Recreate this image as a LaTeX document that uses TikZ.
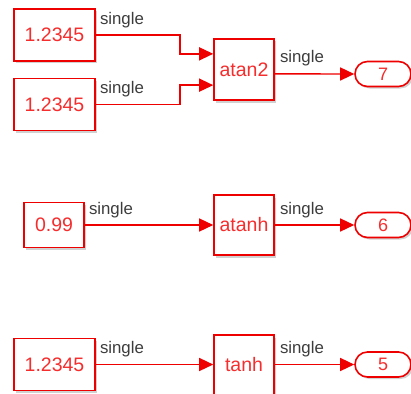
\documentclass[tikz,border=0pt]{standalone}
\usepackage{fontspec}
\setmainfont{Liberation Sans}
\usetikzlibrary{arrows.meta,shapes.misc,shadows,calc}
\definecolor{slred}{RGB}{238,0,0}
\definecolor{sltext}{RGB}{245,45,45}
\definecolor{slgray}{RGB}{60,60,60}
\tikzset{
  blk/.style={draw=slred, line width=1.6pt, fill=white, inner sep=0pt, text=sltext,
    font=\fontsize{19.5}{23}\selectfont,
    drop shadow={shadow xshift=2pt, shadow yshift=-2.5pt, fill=black, opacity=0.18}},
  outport/.style={rounded rectangle, draw=slred, line width=1.6pt, fill=white, inner sep=0pt,
    text=sltext, font=\fontsize{18}{22}\selectfont, minimum width=56pt, minimum height=25pt,
    drop shadow={shadow xshift=2pt, shadow yshift=-2pt, fill=black, opacity=0.18}},
  conn/.style={draw=slred, line width=1.4pt, -{Triangle[length=14pt,width=13pt]}},
  lbl/.style={text=slgray, inner sep=0pt, anchor=south west, font=\fontsize{16.8}{20}\selectfont}
}
\begin{document}
\begin{tikzpicture}[x=1pt,y=-1pt]
\useasboundingbox (0,0) rectangle (411,393);
% top group
\node[blk, minimum width=81pt, minimum height=52pt] (c1) at (54.5,35) {1.2345};
\node[blk, minimum width=81pt, minimum height=52pt] (c2) at (54.5,104.5) {1.2345};
\node[blk, minimum width=60pt, minimum height=61pt] (a2) at (244,69.5) {atan2};
\coordinate (a2in1) at ($(a2.north west)!0.25!(a2.south west)$);
\coordinate (a2in2) at ($(a2.north west)!0.75!(a2.south west)$);
\coordinate (a2out) at ($(a2.north east)!0.57!(a2.south east)$);
\node[outport] (p7) at (383,74) {7};
\draw[conn] (c1.east) -- (180,35) |- (a2in1);
\draw[conn] (c2.east) -- (180,104.5) |- (a2in2);
\draw[conn] (a2out) -- (p7.west);
\node[lbl] (l1) at ($(c1.east)+(4,-7)$) {single};
\node[lbl] (l2) at ($(c2.east)+(4,-7)$) {single};
\node[lbl] (l3) at ($(a2out)+(5,-8)$) {single};
% middle group
\node[blk, minimum width=60pt, minimum height=45pt] (c3) at (54,225) {0.99};
\node[blk, minimum width=60pt, minimum height=60pt] (ah) at (244,225) {atanh};
\node[outport] (p6) at (383,225) {6};
\draw[conn] (c3.east) -- (ah.west);
\draw[conn] (ah.east) -- (p6.west);
\node[lbl] (l4) at ($(c3.east)+(4,-7)$) {single};
\node[lbl] (l5) at ($(ah.east)+(5,-7)$) {single};
% bottom group
\node[blk, minimum width=81pt, minimum height=52pt] (c4) at (54.5,364.5) {1.2345};
\node[blk, minimum width=60pt, minimum height=60pt] (th) at (244,365) {tanh};
\node[outport] (p5) at (383,364.5) {5};
\draw[conn] (c4.east) -- (th.west |- c4.east);
\draw[conn] (th.east |- c4.east) -- (p5.west);
\node[lbl] (l6) at ($(c4.east)+(4,-7)$) {single};
\node[lbl] (l7) at ($(th.east |- c4.east)+(5,-7)$) {single};
\end{tikzpicture}
\end{document}
